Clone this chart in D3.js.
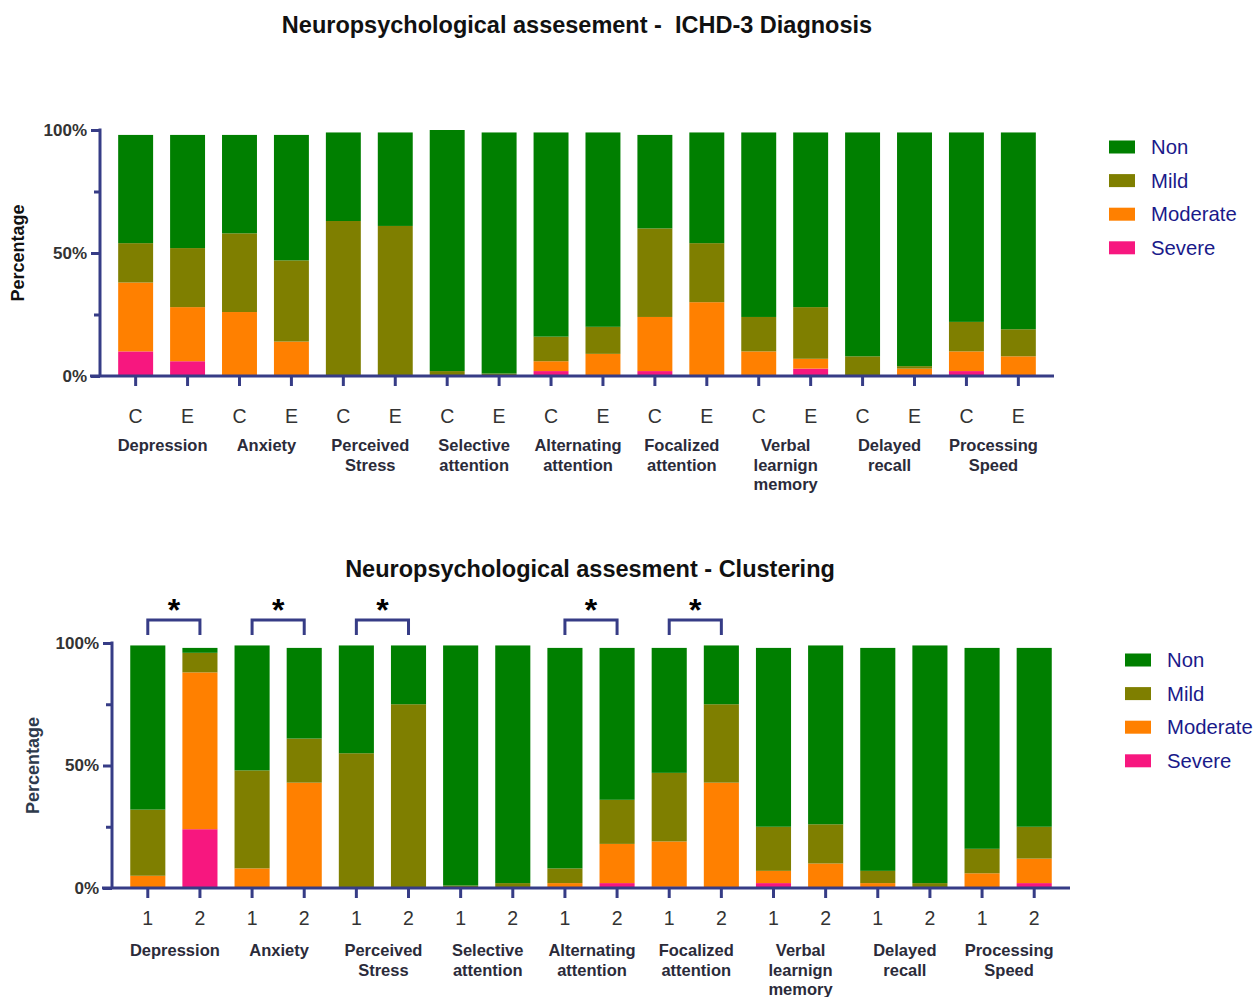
<!DOCTYPE html>
<html>
<head>
<meta charset="utf-8">
<script src="https://cdn.jsdelivr.net/npm/d3@7"></script>
<style>
  body { margin: 0; background: #fff; }
  svg { font-family: "Liberation Sans", Arial, sans-serif; }
</style>
</head>
<body>
<svg id="chart" width="1255" height="997"></svg>
<script>
// series order bottom -> top
const keys = ["Severe", "Moderate", "Mild", "Non"];
const legendKeys = ["Non", "Mild", "Moderate", "Severe"];
const colors = { Non: "#007f00", Mild: "#7f7f00", Moderate: "#ff8000", Severe: "#f7177f" };

const groups = [["Depression"], ["Anxiety"], ["Perceived", "Stress"], ["Selective", "attention"],
  ["Alternating", "attention"], ["Focalized", "attention"], ["Verbal", "learnign", "memory"],
  ["Delayed", "recall"], ["Processing", "Speed"]];

const topTicks = ["C", "E"];
const bottomTicks = ["1", "2"];

// ICHD-3 diagnosis (C / E per group), percent
const topSevere   = [10, 6, 0, 0, 0, 0, 0, 0, 2, 0, 2, 0, 0, 3, 0, 0, 2, 0];
const topModerate = [28, 22, 26, 14, 0, 0, 0, 0, 4, 9, 22, 30, 10, 4, 0, 3, 8, 8];
const topMild     = [16, 24, 32, 33, 63, 61, 2, 1, 10, 11, 36, 24, 14, 21, 8, 1, 12, 11];
const topNon      = [44, 46, 40, 51, 36, 38, 98, 98, 83, 79, 38, 45, 75, 71, 91, 95, 77, 80];

// Clustering (1 / 2 per group), percent
const botSevere   = [0, 24, 0, 0, 0, 0, 0, 0, 0, 2, 0.5, 0, 2, 0, 0, 0, 0, 2];
const botModerate = [5, 64, 8, 43, 0, 0, 0, 0, 2, 16, 18.5, 43, 5, 10, 2, 0, 6, 10];
const botMild     = [27, 8, 40, 18, 55, 75, 1, 2, 6, 18, 28, 32, 18, 16, 5, 2, 10, 13];
const botNon      = [67, 2, 51, 37, 44, 24, 98, 97, 90, 62, 51, 24, 73, 73, 91, 97, 82, 73];

// significance brackets in the clustering panel (group indices)
const sigGroups = [0, 1, 2, 4, 5];

const axisColor = "#363c86";
const svg = d3.select("#chart");

function buildRows(sev, mod, mild, non, ticks) {
  const rows = [];
  groups.forEach((g, gi) => {
    ticks.forEach((t, ti) => {
      const i = gi * 2 + ti;
      rows.push({ id: i, tick: t, Severe: sev[i], Moderate: mod[i], Mild: mild[i], Non: non[i] });
    });
  });
  return rows;
}

function drawPanel(o) {
  const g = svg.append("g");
  const rows = buildRows(o.sev, o.mod, o.mild, o.non, o.ticks);

  const x = d3.scaleBand()
    .domain(rows.map(d => d.id))
    .range([o.x0, o.x1])
    .paddingInner(0.327)
    .paddingOuter(0.35);
  const y = d3.scaleLinear().domain([0, 100]).range([o.yBottom, o.yTop]);

  const series = d3.stack().keys(keys)(rows);

  g.selectAll("g.layer")
    .data(series)
    .enter()
    .append("g")
    .attr("class", "layer")
    .attr("fill", d => colors[d.key])
    .selectAll("rect")
    .data(d => d)
    .enter()
    .append("rect")
    .attr("x", d => x(d.data.id))
    .attr("y", d => y(d[1]))
    .attr("width", x.bandwidth())
    .attr("height", d => y(d[0]) - y(d[1]));

  // y axis
  const yAxis = d3.axisLeft(y)
    .tickValues([0, 25, 50, 75, 100])
    .tickSize(9)
    .tickPadding(4)
    .tickFormat(d => d % 50 === 0 ? d + "%" : "");
  const ya = g.append("g")
    .attr("transform", `translate(${o.x0},0)`)
    .call(yAxis);
  ya.select(".domain").remove();
  ya.append("line")
    .attr("x1", 0).attr("x2", 0)
    .attr("y1", y(100) - 1.5).attr("y2", y(0))
    .attr("stroke", axisColor).attr("stroke-width", 3);
  ya.selectAll(".tick line").attr("stroke", axisColor).attr("stroke-width", 3)
    .attr("x2", d => d % 50 === 0 ? -9 : -6);
  ya.selectAll(".tick text")
    .attr("fill", "#333")
    .attr("font-size", 17)
    .attr("font-weight", "bold");

  // x axis
  const xAxis = d3.axisBottom(x)
    .tickSize(10)
    .tickPadding(o.tickPad)
    .tickFormat(id => rows[id].tick);
  const xa = g.append("g")
    .attr("transform", `translate(0,${o.yBottom})`)
    .call(xAxis);
  xa.select(".domain").remove();
  xa.append("line")
    .attr("x1", o.x0 - 10).attr("x2", o.x1)
    .attr("y1", 0).attr("y2", 0)
    .attr("stroke", axisColor).attr("stroke-width", 3);
  xa.selectAll(".tick line").attr("stroke", axisColor).attr("stroke-width", 3);
  xa.selectAll(".tick text")
    .attr("fill", "#333")
    .attr("font-size", 19.5);

  // group labels
  groups.forEach((lines, gi) => {
    const cx = (x(gi * 2) + x(gi * 2 + 1) + x.bandwidth()) / 2 + 1;
    const t = g.append("text")
      .attr("x", cx)
      .attr("y", o.groupY)
      .attr("text-anchor", "middle")
      .attr("font-size", 16.5)
      .attr("font-weight", "bold")
      .attr("fill", "#2b2b3a");
    lines.forEach((ln, li) => {
      t.append("tspan").attr("x", cx).attr("dy", li === 0 ? 0 : 19.5).text(ln);
    });
  });

  // y title
  g.append("text")
    .attr("transform", `translate(${o.yTitleX},${(y(0) + y(100)) / 2}) rotate(-90)`)
    .attr("text-anchor", "middle")
    .attr("dy", "0.35em")
    .attr("font-size", 18)
    .attr("font-weight", "bold")
    .attr("fill", o.yTitleColor)
    .text("Percentage");

  // title
  svg.append("text")
    .attr("x", o.titleX)
    .attr("y", o.titleY)
    .attr("text-anchor", "middle")
    .attr("font-size", 23.5)
    .attr("font-weight", "bold")
    .attr("fill", "#111")
    .style("white-space", "pre")
    .text(o.title);

  // legend
  const lg = svg.append("g").attr("transform", `translate(${o.legX},${o.legY})`);
  legendKeys.forEach((k, i) => {
    lg.append("rect")
      .attr("x", 0).attr("y", i * 33.6 - 6.5)
      .attr("width", 26).attr("height", 13)
      .attr("fill", colors[k]);
    lg.append("text")
      .attr("x", 42).attr("y", i * 33.6)
      .attr("dy", "0.35em")
      .attr("font-size", 20.3)
      .attr("fill", "#1a1a8a")
      .text(k);
  });

  // significance brackets
  (o.sig || []).forEach(gi => {
    const xa1 = x(gi * 2) + x.bandwidth() / 2;
    const xb1 = x(gi * 2 + 1) + x.bandwidth() / 2;
    const top = y(100) - 23;
    const bot = y(100) - 8;
    g.append("path")
      .attr("d", `M${xa1},${bot}V${top}H${xb1}V${bot}`)
      .attr("fill", "none")
      .attr("stroke", axisColor)
      .attr("stroke-width", 3);
    g.append("text")
      .attr("x", (xa1 + xb1) / 2)
      .attr("y", top + 1)
      .attr("text-anchor", "middle")
      .attr("font-size", 32)
      .attr("font-weight", "bold")
      .attr("fill", "#000")
      .text("*");
  });
}

drawPanel({
  sev: topSevere, mod: topModerate, mild: topMild, non: topNon, ticks: topTicks,
  x0: 100, x1: 1054, yTop: 130, yBottom: 376, tickPad: 23, groupY: 451,
  yTitleX: 18, yTitleColor: "#111",
  title: "Neuropsychological assesement -  ICHD-3 Diagnosis", titleX: 577, titleY: 33,
  legX: 1109, legY: 147
});

drawPanel({
  sev: botSevere, mod: botModerate, mild: botMild, non: botNon, ticks: bottomTicks,
  x0: 112, x1: 1070, yTop: 643, yBottom: 888, tickPad: 13, groupY: 956,
  yTitleX: 33, yTitleColor: "#2e3a4c",
  title: "Neuropsychological assesment - Clustering", titleX: 590, titleY: 577,
  legX: 1125, legY: 660, sig: sigGroups
});
</script>
</body>
</html>
